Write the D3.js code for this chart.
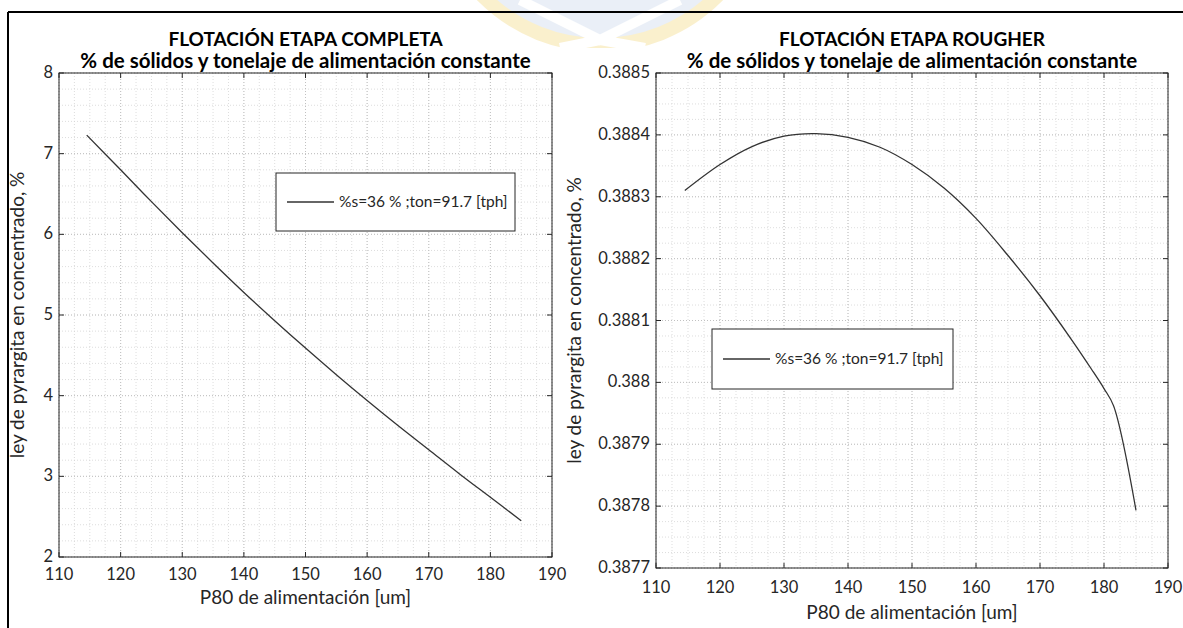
<!DOCTYPE html>
<html>
<head>
<meta charset="utf-8">
<script src="https://cdn.jsdelivr.net/npm/d3@7.9.0/dist/d3.min.js"></script>
<style>
  body { margin: 0; background: #fff; }
  svg { display: block; font-family: Lato, "Open Sans", sans-serif; }
  .tick-label { font-size: 16.5px; fill: #262626; }
  .axis-title { font-size: 19px; fill: #262626; }
  .title { font-size: 19px; font-weight: bold; fill: #000; }
  .subtitle { font-size: 20.5px; font-weight: bold; fill: #000; }
  .legend-text { font-size: 15.5px; fill: #262626; }
</style>
</head>
<body>
<svg id="chart" width="1183" height="628"></svg>
<script>
// ---- data ----
const xTicks = [110, 120, 130, 140, 150, 160, 170, 180, 190];

const leftYTicks = [2, 3, 4, 5, 6, 7, 8];
const leftP80 = [114.5, 120, 125, 130, 135, 140, 145, 150, 155, 160, 165, 170, 175, 180, 185];
const leftLey = [7.23, 6.80, 6.405, 6.02, 5.645, 5.28, 4.93, 4.59, 4.26, 3.94, 3.63, 3.33, 3.03, 2.74, 2.45];

const rightYTicks = [0.3877, 0.3878, 0.3879, 0.3880, 0.3881, 0.3882, 0.3883, 0.3884, 0.3885];
const rightP80 = [114.5, 120, 125, 130, 135, 140, 145, 150, 155, 160, 165, 170, 175, 178, 180, 181.5, 185];
const rightLey = [0.38831, 0.388352, 0.388381, 0.388398, 0.388402, 0.388396, 0.388380, 0.388352, 0.388314, 0.388265, 0.388205, 0.388140, 0.388068, 0.388022, 0.387990, 0.387962, 0.387793];

const legendLabel = '%s=36 % ;ton=91.7 [tph]';
const xLabel = 'P80 de alimentación [um]';
const yLabel = 'ley de pyrargita en concentrado, %';
const subTitle = '% de sólidos y tonelaje de alimentación constante';

const svg = d3.select('#chart');

// faint logo watermark behind the top frame
const wm = svg.append('g').attr('opacity', 0.55);
wm.append('circle').attr('cx', 600).attr('cy', -120).attr('r', 165)
  .attr('fill', '#d9e3f1').attr('stroke', '#f7e4a6').attr('stroke-width', 14);
wm.append('path').attr('d', 'M520,0 L600,40 L680,0 M600,40 L560,48 M600,40 L645,48')
  .attr('stroke', '#ffffff').attr('stroke-width', 10).attr('fill', 'none');
svg.append('rect').attr('x', 0).attr('y', 48).attr('width', 1183).attr('height', 580).attr('fill', '#fff');

// page frame (top and left only)
svg.append('line').attr('x1', 8).attr('x2', 1183).attr('y1', 12).attr('y2', 12)
  .attr('stroke', '#000').attr('stroke-width', 2);
svg.append('line').attr('x1', 8).attr('x2', 8).attr('y1', 12).attr('y2', 628)
  .attr('stroke', '#000').attr('stroke-width', 2);

function drawPanel(o) {
  const x = d3.scaleLinear().domain([110, 190]).range([o.left, o.right]);
  const y = d3.scaleLinear().domain(o.yDomain).range([o.bottom, o.top]);
  const g = svg.append('g');

  // minor grid
  const xMinor = d3.range(110, 190.01, 2.5);
  const yMinor = d3.range(0, o.yMinorCount + 1).map(i => o.yDomain[0] + i * (o.yDomain[1] - o.yDomain[0]) / o.yMinorCount);
  g.selectAll('.xm').data(xMinor).join('line')
    .attr('x1', d => x(d)).attr('x2', d => x(d)).attr('y1', o.top).attr('y2', o.bottom)
    .attr('stroke', '#d4d4d4').attr('stroke-width', 0.8).attr('stroke-dasharray', '1,2');
  g.selectAll('.ym').data(yMinor).join('line')
    .attr('y1', d => y(d)).attr('y2', d => y(d)).attr('x1', o.left).attr('x2', o.right)
    .attr('stroke', '#d4d4d4').attr('stroke-width', 0.8).attr('stroke-dasharray', '1,2');
  // major grid
  g.selectAll('.xg').data(xTicks).join('line')
    .attr('x1', d => x(d)).attr('x2', d => x(d)).attr('y1', o.top).attr('y2', o.bottom)
    .attr('stroke', '#bdbdbd').attr('stroke-width', 0.9).attr('stroke-dasharray', '1,2');
  g.selectAll('.yg').data(o.yTicks).join('line')
    .attr('y1', d => y(d)).attr('y2', d => y(d)).attr('x1', o.left).attr('x2', o.right)
    .attr('stroke', '#bdbdbd').attr('stroke-width', 0.9).attr('stroke-dasharray', '1,2');

  // inward ticks on all four sides
  const tl = 5;
  xTicks.forEach(t => {
    g.append('line').attr('x1', x(t)).attr('x2', x(t)).attr('y1', o.bottom).attr('y2', o.bottom - tl).attr('stroke', '#262626');
    g.append('line').attr('x1', x(t)).attr('x2', x(t)).attr('y1', o.top).attr('y2', o.top + tl).attr('stroke', '#262626');
  });
  o.yTicks.forEach(t => {
    g.append('line').attr('y1', y(t)).attr('y2', y(t)).attr('x1', o.left).attr('x2', o.left + tl).attr('stroke', '#262626');
    g.append('line').attr('y1', y(t)).attr('y2', y(t)).attr('x1', o.right).attr('x2', o.right - tl).attr('stroke', '#262626');
  });

  g.append('rect').attr('x', o.left).attr('y', o.top)
    .attr('width', o.right - o.left).attr('height', o.bottom - o.top)
    .attr('fill', 'none').attr('stroke', '#262626').attr('stroke-width', 1);

  // tick labels
  g.selectAll('.xl').data(xTicks).join('text').attr('class', 'tick-label')
    .attr('x', d => x(d)).attr('y', o.bottom + o.xTickOff).attr('text-anchor', 'middle').text(d => d);
  g.selectAll('.yl').data(o.yTicks).join('text').attr('class', 'tick-label')
    .attr('x', o.left - 6).attr('y', d => y(d) + 5).attr('text-anchor', 'end')
    .text(d => String(+d.toFixed(4)));

  // axis titles
  g.append('text').attr('class', 'axis-title').attr('text-anchor', 'middle')
    .attr('x', (o.left + o.right) / 2).attr('y', o.bottom + o.xTitleOff).text(xLabel);
  g.append('text').attr('class', 'axis-title').attr('text-anchor', 'middle')
    .attr('transform', `translate(${o.yLabelX},${(o.top + o.bottom) / 2}) rotate(-90)`).text(yLabel);

  // titles
  g.append('text').attr('class', 'title').attr('text-anchor', 'middle')
    .attr('x', (o.left + o.right) / 2).attr('y', 46).text(o.title);
  g.append('text').attr('class', 'subtitle').attr('text-anchor', 'middle')
    .attr('x', (o.left + o.right) / 2).attr('y', 68).text(subTitle);

  // curve
  const line = d3.line().x(d => x(d[0])).y(d => y(d[1])).curve(d3.curveCatmullRom.alpha(0.5));
  g.append('path').datum(d3.zip(o.xs, o.ys)).attr('d', line)
    .attr('fill', 'none').attr('stroke', '#333').attr('stroke-width', 1.3);

  // legend
  const L = o.legend;
  g.append('rect').attr('x', L.x).attr('y', L.y).attr('width', L.w).attr('height', L.h)
    .attr('fill', '#fff').attr('stroke', '#262626').attr('stroke-width', 1);
  g.append('line').attr('x1', L.x + 11).attr('x2', L.x + 58).attr('y1', L.y + L.h / 2).attr('y2', L.y + L.h / 2)
    .attr('stroke', '#333').attr('stroke-width', 1.3);
  g.append('text').attr('class', 'legend-text').attr('x', L.x + 63).attr('y', L.y + L.h / 2 + 5).text(legendLabel);
}

drawPanel({
  left: 59, right: 552, top: 73, bottom: 557,
  yDomain: [2, 8], yTicks: leftYTicks, yMinorCount: 30,
  xs: leftP80, ys: leftLey, yLabelX: 24, xTickOff: 23, xTitleOff: 47,
  title: 'FLOTACIÓN ETAPA COMPLETA',
  legend: { x: 276, y: 173, w: 239, h: 58 }
});

drawPanel({
  left: 656, right: 1168, top: 73, bottom: 568,
  yDomain: [0.3877, 0.3885], yTicks: rightYTicks, yMinorCount: 32,
  xs: rightP80, ys: rightLey, yLabelX: 581, xTickOff: 25, xTitleOff: 51,
  title: 'FLOTACIÓN ETAPA ROUGHER',
  legend: { x: 712, y: 329, w: 241, h: 60 }
});
</script>
</body>
</html>
